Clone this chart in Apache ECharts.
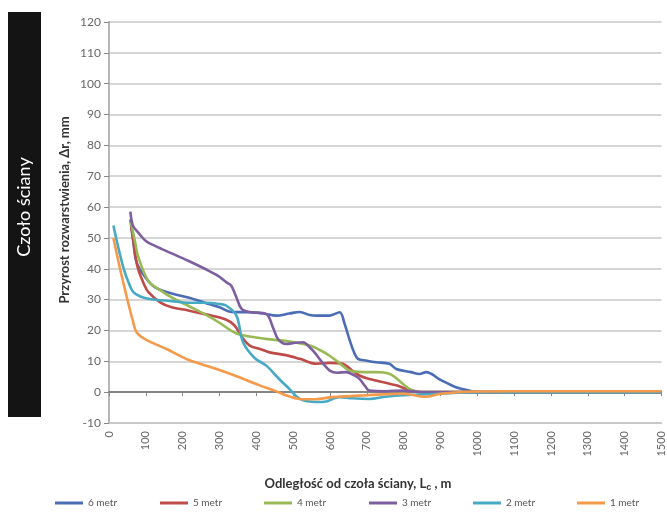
<!DOCTYPE html>
<html>
<head>
<meta charset="utf-8">
<script src="https://cdn.jsdelivr.net/npm/echarts@6/dist/echarts.min.js"></script>
<style>
html,body{margin:0;padding:0;background:#fff;}
#chart{width:667px;height:518px;}
</style>
</head>
<body>
<div id="chart"></div>
<script>
const seriesNames = ['6 metr', '5 metr', '4 metr', '3 metr', '2 metr', '1 metr'];

const metr6 = [[58,56],[66,49],[75,42],[100,37],[125,34],[170,32],[215,30.7],[260,29],[300,27.5],[332,26],[380,25.9],[420,25.5],[454,24.8],[490,25.5],[518,26],[545,25],[563,24.8],[599,24.8],[626,25.9],[640,22],[653,17],[665,13],[676,10.8],[700,10.2],[725,9.7],[761,9.2],[780,7.5],[820,6.5],[843,5.9],[861,6.5],[900,4],[942,1.6],[978,0.5],[1000,0],[1100,0],[1200,0],[1300,0],[1400,0],[1500,0]];
const metr5 = [[60,54],[66,49],[72,44],[79,40],[95,35],[107,32.4],[140,29],[170,27.5],[215,26.5],[260,25.3],[314,23.7],[341,21.6],[360,18],[382,15.1],[410,14],[436,12.9],[480,12],[518,10.8],[563,9.2],[600,9.5],[635,9.2],[660,7],[680,5.4],[700,4.5],[725,3.8],[780,2.2],[810,1],[850,0],[900,0],[1000,0],[1100,0],[1200,0],[1300,0],[1400,0],[1500,0]];
const metr4 = [[60,55],[65,52],[72,48],[79,44],[107,36],[140,33],[170,30.7],[215,28],[260,25.3],[300,22.5],[332,19.9],[360,18.5],[396,17.8],[430,17.2],[472,16.7],[510,16],[545,15.1],[575,13.5],[599,11.8],[625,9.5],[653,7],[690,6.5],[725,6.5],[761,6],[780,4.5],[800,2.5],[816,1],[840,0],[900,0],[1000,0],[1100,0],[1200,0],[1300,0],[1400,0],[1500,0]];
const metr3 = [[58,58.5],[65,54],[79,51.8],[100,49],[125,47.4],[170,45],[215,42.6],[260,40],[296,37.7],[320,35.5],[332,34.5],[345,31],[360,27],[382,26],[427,25.3],[445,21],[459,17.2],[481,15.6],[505,16],[527,16.2],[545,14.5],[558,12.9],[580,9.5],[599,7],[620,6.3],[644,6.5],[665,5.5],[680,4.3],[695,2],[707,0.5],[750,0.3],[800,0.5],[850,0],[900,0],[1000,0],[1100,0],[1200,0],[1300,0],[1400,0],[1500,0]];
const metr2 = [[12,54],[25,47],[40,40],[55,35],[66,32.4],[85,31],[111,30.2],[170,29.5],[215,29],[260,29],[300,28.6],[319,28],[346,24.8],[364,16.2],[396,11],[427,8.6],[460,4.5],[490,1],[518,-2.2],[563,-3.2],[590,-3],[607,-2.2],[626,-1.6],[660,-2],[707,-2.2],[750,-1.5],[800,-1],[900,-0.5],[1000,0],[1100,0],[1200,0],[1300,0],[1400,0],[1500,0]];
const metr1 = [[12,50],[30,40],[50,30],[65,23],[75,19.4],[100,17],[156,14],[215,10.5],[292,7.5],[350,5],[409,2.2],[450,0.5],[482,-1.1],[518,-2.2],[560,-2.3],[607,-1.6],[700,-1],[800,-0.5],[860,-1.5],[900,-0.5],[1000,0.2],[1100,0.3],[1200,0.3],[1300,0.3],[1400,0.3],[1500,0.3]];

const xTicks = {min: 0, max: 1500, interval: 100};
const yTicks = {min: -10, max: 120, interval: 10};

const colors = ['#4A6DB5', '#BE4B48', '#98B954', '#7D5FA0', '#46AAC5', '#F59A4B'];
const allData = [metr6, metr5, metr4, metr3, metr2, metr1];
const legendLefts = [50, 155, 259, 364, 468, 572];

const chart = echarts.init(document.getElementById('chart'), null, {renderer: 'canvas'});
const font = 'Lato, "Open Sans", sans-serif';

chart.setOption({
  animation: false,
  color: colors,
  textStyle: {fontFamily: font},
  grid: {left: 109, right: 5, top: 22, bottom: 95, containLabel: false},
  legend: seriesNames.map((n, i) => ({
    bottom: 5, left: legendLefts[i],
    itemGap: 0, itemWidth: 28, itemHeight: 3,
    icon: 'rect',
    textStyle: {fontSize: 10, color: '#555', fontFamily: font},
    data: [n]
  })),
  xAxis: [{
    type: 'value', min: xTicks.min, max: xTicks.max, interval: xTicks.interval,
    position: 'bottom',
    axisLine: {onZero: false, show: true, lineStyle: {color: '#c4c4c4', width: 1.5}},
    axisTick: {show: false},
    splitLine: {show: false},
    axisLabel: {rotate: 90, fontSize: 11, color: '#666', margin: 8, fontFamily: font,
                formatter: v => String(v)}
  }, {
    type: 'value', min: xTicks.min, max: xTicks.max, interval: xTicks.interval,
    position: 'bottom',
    axisLine: {onZero: true, show: true, lineStyle: {color: '#6a6a6a', width: 1.5}},
    axisTick: {show: true, length: 4, lineStyle: {color: '#888'}},
    axisLabel: {show: false},
    splitLine: {show: false}
  }],
  yAxis: [{
    type: 'value', min: yTicks.min, max: yTicks.max, interval: yTicks.interval,
    axisLine: {show: true, lineStyle: {color: '#6a6a6a', width: 1.5}},
    axisTick: {show: true, length: 5, lineStyle: {color: '#888'}},
    axisLabel: {fontSize: 12, color: '#666', margin: 8, fontFamily: font},
    splitLine: {show: true, lineStyle: {color: '#c8c8c8', width: 1.5}}
  }, {
    type: 'value', min: yTicks.min, max: yTicks.max, interval: yTicks.interval,
    position: 'right',
    axisLine: {show: true, lineStyle: {color: '#c4c4c4', width: 1.5}},
    axisTick: {show: false},
    axisLabel: {show: false},
    splitLine: {show: false}
  }],
  graphic: [
    {type: 'rect', left: 8, top: 12, shape: {width: 33, height: 405}, style: {fill: '#141414'}},
    {type: 'text', x: 24.5, y: 207, rotation: Math.PI / 2,
     style: {text: 'Czoło ściany', fill: '#fff', fontSize: 18, fontFamily: font, align: 'center', verticalAlign: 'middle'}},
    {type: 'text', x: 65, y: 210, rotation: Math.PI / 2,
     style: {text: 'Przyrost rozwarstwienia, Δr, mm', fill: '#333', fontSize: 13, fontWeight: 'bold', fontFamily: font, align: 'center', verticalAlign: 'middle'}},
    {type: 'text', x: 358, y: 484,
     style: {
       text: 'Odległość od czoła ściany, L{sub|c} , m',
       rich: {sub: {fontSize: 9, fontWeight: 'bold', fill: '#333', padding: [7, 0, 0, 0]}},
       fill: '#333', fontSize: 13, fontWeight: 'bold', fontFamily: font, align: 'center', verticalAlign: 'middle'}}
  ],
  series: allData.map((d, i) => ({
    name: seriesNames[i],
    type: 'line',
    xAxisIndex: 0,
    yAxisIndex: 0,
    data: d,
    smooth: 0.35,
    showSymbol: false,
    lineStyle: {width: 2.6, color: colors[i]},
    itemStyle: {color: colors[i]}
  }))
});
</script>
</body>
</html>
